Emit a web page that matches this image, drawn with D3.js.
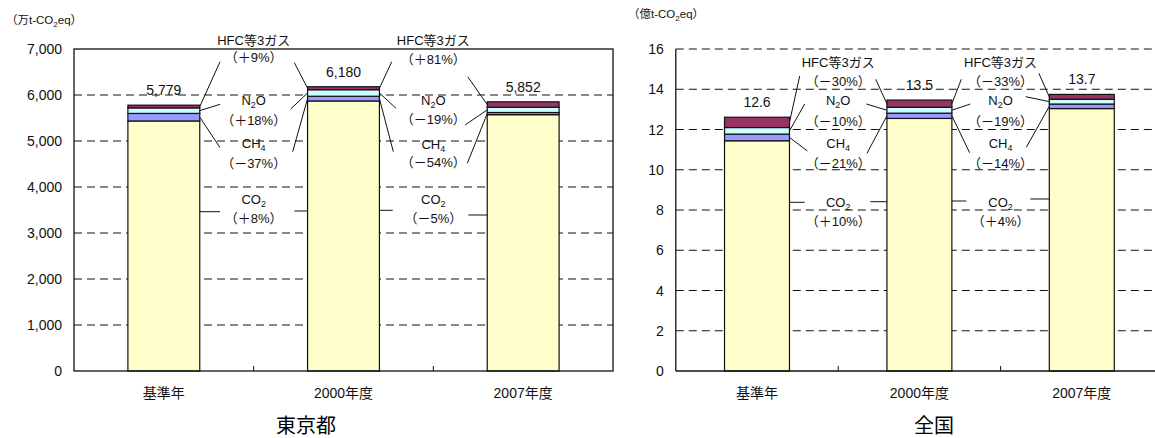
<!DOCTYPE html>
<html>
<head>
<meta charset="utf-8">
<script src="https://cdn.jsdelivr.net/npm/d3@7"></script>
<style>
  body { margin: 0; background: #fff; }
  svg { display: block; font-family: "Liberation Sans", "Noto Sans CJK JP", sans-serif; }
</style>
</head>
<body>
<svg id="chart" width="1155" height="438"></svg>
<script>
// ---- data ----
const categories = ["基準年", "2000年度", "2007年度"];
const gases = ["CO2", "CH4", "N2O", "HFC"];

// 東京都 (万t-CO2eq)
const tokyoCO2 = [5435.4, 5870, 5572.4];
const tokyoCH4 = [164, 103, 47];
const tokyoN2O = [120, 142, 115];
const tokyoHFC = [59.6, 65, 117.6];
const tokyoTicks = [0, 1000, 2000, 3000, 4000, 5000, 6000, 7000];

// 全国 (億t-CO2eq)
const japanCO2 = [11.44, 12.55, 13.04];
const japanCH4 = [0.332, 0.262, 0.226];
const japanN2O = [0.326, 0.293, 0.237];
const japanHFC = [0.512, 0.358, 0.240];
const japanTicks = [0, 2, 4, 6, 8, 10, 12, 14, 16];

const colors = { CO2: "#FFFFCC", CH4: "#9999FF", N2O: "#CCFFFF", HFC: "#993366" };

// ---- layout ----
const svg = d3.select("#chart");
const plotTop = 49, plotBottom = 371;

const panels = [
  {
    title: "東京都", unitHead: "（万t-CO", unitTail: "eq）", unitX: 6, unitY: 24,
    series: { CO2: tokyoCO2, CH4: tokyoCH4, N2O: tokyoN2O, HFC: tokyoHFC },
    ticks: tokyoTicks, x0: 74, x1: 613, titleX: 306, fullFrame: true,
    tickFmt: d3.format(","), totalFmt: d3.format(",.0f"),
    rows: [
      { HFC: [40, 57], N2O: [100, 120], CH4: [143.5, 163], CO2: [199.5, 218] },
      { HFC: [40, 59], N2O: [100, 119.5], CH4: [144, 162.5], CO2: [199.5, 218] }
    ],
    // leader ends on the label side: [dx from group centre, y]
    leaders: [
      { HFC: [[-33.6, 61.7], [40.7, 62.7]], N2O: [[-33.6, 104.3], [37, 109]],
        CH4: [[-33.6, 147.7], [39, 151.7]], CO2: [[-33.6, 211.7], [40.7, 211]] },
      { HFC: [[-41.6, 61.7], [34.4, 76.7]], N2O: [[-37.3, 108.3], [31.7, 125]],
        CH4: [[-40, 151.7], [34, 163.3]], CO2: [[-40.6, 210.3], [35, 215]] }
    ]
  },
  {
    title: "全国", unitHead: "（億t-CO", unitTail: "eq）", unitX: 628, unitY: 18,
    series: { CO2: japanCO2, CH4: japanCH4, N2O: japanN2O, HFC: japanHFC },
    ticks: japanTicks, x0: 675.8, x1: 1163, titleX: 934, fullFrame: false,
    tickFmt: d3.format("d"), totalFmt: d3.format(".1f"),
    rows: [
      { HFC: [62.7, 81.7], N2O: [100, 121], CH4: [143.3, 163], CO2: [202.3, 221.7] },
      { HFC: [62.7, 81.7], N2O: [100, 121.7], CH4: [143.3, 163.3], CO2: [202.3, 221.7] }
    ],
    leaders: [
      { HFC: [[-38.5, 76], [37.5, 79.3]], N2O: [[-33.5, 104], [28.2, 104]],
        CH4: [[-30.8, 151], [28.8, 153.3]], CO2: [[-33.5, 202.3], [32.2, 201.7]] },
      { HFC: [[-39.3, 79.3], [38.3, 73.3]], N2O: [[-30.3, 104], [25, 96.7]],
        CH4: [[-31, 152.7], [25.7, 147.3]], CO2: [[-34.3, 201], [29.7, 199]] }
    ]
  }
];

// gas names with subscripts
const gasParts = {
  CO2: [["CO", 0], ["2", 1]],
  CH4: [["CH", 0], ["4", 1]],
  N2O: [["N", 0], ["2", 1], ["O", 0]],
  HFC: [["HFC等3ガス", 0]]
};
function writeParts(text, parts, subSize) {
  let down = false;
  parts.forEach(([t, sub]) => {
    const ts = text.append("tspan").text(t);
    if (sub) { ts.attr("font-size", subSize).attr("dy", 3); down = true; }
    else if (down) { ts.attr("dy", -3); down = false; }
  });
}
function pctText(a, b) {
  const p = Math.round((b / a - 1) * 100);
  return "（" + (p < 0 ? "－" : "＋") + Math.abs(p) + "%）";
}

panels.forEach(P => {
  const g = svg.append("g");
  const rows = categories.map((c, i) => {
    const r = { cat: c };
    gases.forEach(k => r[k] = P.series[k][i]);
    return r;
  });
  const stacked = d3.stack().keys(gases)(rows);
  const totals = rows.map(r => d3.sum(gases, k => r[k]));

  const y = d3.scaleLinear().domain([0, d3.max(P.ticks)]).range([plotBottom, plotTop]);
  const x = d3.scalePoint().domain(categories).range([P.x0, P.x1]).padding(0.5);
  const step = x.step();
  const bw = step * 0.4;

  // dashed grid
  const gridTicks = P.ticks.filter(t => t > 0 && (P.fullFrame ? t < d3.max(P.ticks) : true));
  g.selectAll(".grid").data(gridTicks).join("line")
    .attr("x1", P.x0).attr("x2", P.x1)
    .attr("y1", d => y(d)).attr("y2", d => y(d))
    .attr("stroke", "#111").attr("stroke-width", 1).attr("stroke-dasharray", "8,5");

  // stacked bars
  stacked.forEach(layer => {
    g.selectAll(null).data(layer).join("rect")
      .attr("x", d => x(d.data.cat) - bw / 2)
      .attr("width", bw)
      .attr("y", d => y(d[1]))
      .attr("height", d => y(d[0]) - y(d[1]))
      .attr("fill", colors[layer.key])
      .attr("stroke", "#111").attr("stroke-width", 1.2);
  });

  // frame and axes
  if (P.fullFrame) {
    g.append("rect").attr("x", P.x0).attr("y", plotTop)
      .attr("width", P.x1 - P.x0).attr("height", plotBottom - plotTop)
      .attr("fill", "none").attr("stroke", "#111").attr("stroke-width", 1.3);
  } else {
    g.append("line").attr("x1", P.x0).attr("x2", P.x0).attr("y1", plotTop).attr("y2", plotBottom)
      .attr("stroke", "#111").attr("stroke-width", 1.3);
    g.append("line").attr("x1", P.x0).attr("x2", P.x1).attr("y1", plotBottom).attr("y2", plotBottom)
      .attr("stroke", "#111").attr("stroke-width", 1.3);
  }
  // category separators on the baseline
  const bounds = categories.slice(0, -1).map(c => x(c) + step / 2);
  g.selectAll(null).data(bounds).join("line")
    .attr("x1", d => d).attr("x2", d => d)
    .attr("y1", plotBottom).attr("y2", plotBottom - 5)
    .attr("stroke", "#111").attr("stroke-width", 1);

  // y tick labels
  g.selectAll(null).data(P.ticks).join("text")
    .attr("x", P.x0 - 12).attr("y", d => y(d) + 5)
    .attr("text-anchor", "end").attr("font-size", 14).attr("fill", "#111")
    .text(d => P.tickFmt(d));

  // category labels
  g.selectAll(null).data(categories).join("text")
    .attr("x", d => x(d)).attr("y", 398)
    .attr("text-anchor", "middle").attr("font-size", 14).attr("fill", "#111")
    .text(d => d);

  // totals above bars
  g.selectAll(null).data(rows).join("text")
    .attr("x", d => x(d.cat)).attr("y", (d, i) => y(totals[i]) - 10)
    .attr("text-anchor", "middle").attr("font-size", 14).attr("fill", "#111")
    .text((d, i) => P.totalFmt(totals[i]));

  // change labels and leader lines between bars
  for (let gi = 0; gi < categories.length - 1; gi++) {
    const gx = bounds[gi];
    const leftBarX = x(categories[gi]) + bw / 2;
    const rightBarX = x(categories[gi + 1]) - bw / 2;
    gases.forEach(k => {
      const [nameY, pctY] = P.rows[gi][k];
      const nm = g.append("text").attr("x", gx).attr("y", nameY + 4.5)
        .attr("text-anchor", "middle").attr("font-size", 13).attr("fill", "#111");
      writeParts(nm, gasParts[k], 9);
      g.append("text").attr("x", gx).attr("y", pctY + 4.5)
        .attr("text-anchor", "middle").attr("font-size", 13).attr("fill", "#111")
        .text(pctText(P.series[k][gi], P.series[k][gi + 1]));

      const [lEnd, rEnd] = P.leaders[gi][k];
      const segL = stacked.find(s => s.key === k)[gi];
      const segR = stacked.find(s => s.key === k)[gi + 1];
      const yL = k === "CO2" ? lEnd[1] : y((segL[0] + segL[1]) / 2);
      const yR = k === "CO2" ? rEnd[1] : y((segR[0] + segR[1]) / 2);
      g.append("line").attr("x1", leftBarX).attr("y1", yL)
        .attr("x2", gx + lEnd[0]).attr("y2", lEnd[1])
        .attr("stroke", "#111").attr("stroke-width", 1);
      g.append("line").attr("x1", gx + rEnd[0]).attr("y1", rEnd[1])
        .attr("x2", rightBarX).attr("y2", yR)
        .attr("stroke", "#111").attr("stroke-width", 1);
    });
  }

  // unit label
  const u = g.append("text").attr("x", P.unitX).attr("y", P.unitY)
    .attr("font-size", 11.5).attr("fill", "#111");
  u.append("tspan").text(P.unitHead);
  u.append("tspan").attr("font-size", 8).attr("dy", 3).text("2");
  u.append("tspan").attr("dy", -3).text(P.unitTail);

  // panel title
  g.append("text").attr("x", P.titleX).attr("y", 433)
    .attr("text-anchor", "middle").attr("font-size", 20).attr("fill", "#000")
    .attr("font-family", "'Noto Sans CJK JP', sans-serif")
    .text(P.title);
});
</script>
</body>
</html>
